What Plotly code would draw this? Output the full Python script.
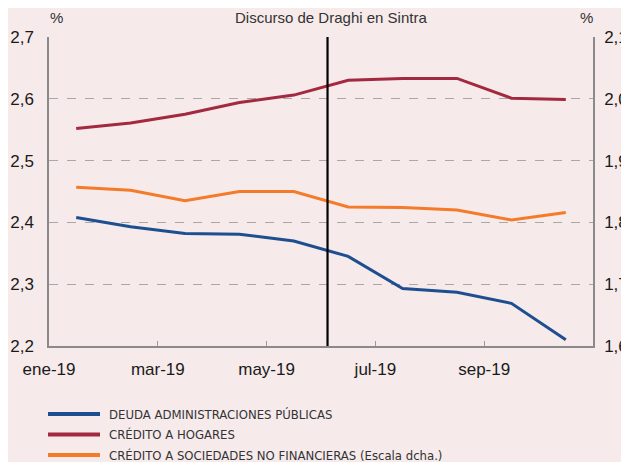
import plotly.graph_objects as go

# Data (monthly, Jan-Oct 2019)
months = ["ene-19", "feb-19", "mar-19", "abr-19", "may-19", "jun-19",
          "jul-19", "ago-19", "sep-19", "oct-19"]
deuda_ap = [2.408, 2.393, 2.382, 2.381, 2.370, 2.345, 2.293, 2.287, 2.269, 2.210]
credito_hogares = [2.552, 2.561, 2.575, 2.594, 2.606, 2.630, 2.633, 2.633, 2.601, 2.599]
credito_snf = [1.857, 1.852, 1.835, 1.850, 1.850, 1.825, 1.824, 1.820, 1.804, 1.816]

tick_positions = [0, 2, 4, 6, 8]
tick_labels = ["ene-19", "mar-19", "may-19", "jul-19", "sep-19"]
speech_pos = 5.12  # Discurso de Draghi en Sintra

x_pos = [i + 0.5 for i in range(len(months))]

BLUE = "#1D4E8F"
RED = "#A3293F"
ORANGE = "#F47B2A"
BG = "#F6EAEB"
FONT = "Liberation Sans, Arial, sans-serif"
NARROW = "Liberation Sans Narrow, DejaVu Sans Condensed, sans-serif"

fig = go.Figure()
fig.add_trace(go.Scatter(x=x_pos, y=deuda_ap, mode="lines", line=dict(color=BLUE, width=3),
                         name="DEUDA ADMINISTRACIONES PÚBLICAS", showlegend=False))
fig.add_trace(go.Scatter(x=x_pos, y=credito_hogares, mode="lines", line=dict(color=RED, width=3),
                         name="CRÉDITO A HOGARES", showlegend=False))
fig.add_trace(go.Scatter(x=x_pos, y=credito_snf, mode="lines", line=dict(color=ORANGE, width=3),
                         name="CRÉDITO A SOCIEDADES NO FINANCIERAS (Escala dcha.)",
                         yaxis="y2", showlegend=False))

# page body has an 8px margin, so the figure is 8px smaller and offset
OFF = 8
W, H = 629 - OFF, 462 - OFF
L, T = 49 - OFF, 37 - OFF
R = W - (593 - OFF)
B = H - (346 - OFF)
pw, ph = W - L - R, H - T - B

def px_x(p):
    return (p - OFF - L) / pw

def px_y(p):
    return (H - B - (p - OFF)) / ph

fig.update_layout(
    width=W, height=H,
    margin=dict(l=L, r=R, t=T, b=B, pad=0, autoexpand=False),
    paper_bgcolor=BG, plot_bgcolor=BG,
    separators=",.",
    font=dict(family=FONT, size=17, color="#1a1a1a"),
    xaxis=dict(range=[0, 10], tickvals=tick_positions, ticktext=tick_labels, automargin=False,
               showgrid=False, zeroline=False, showline=True, linecolor="#8a8a8a", linewidth=1.5,
               ticks="inside", ticklen=5, tickcolor="#9a9a9a", tickwidth=1,
               ticklabelstandoff=7, tickfont=dict(size=17), fixedrange=True),
    yaxis=dict(range=[2.2, 2.7], dtick=0.1, tickformat=".1f", automargin=False,
               showgrid=True, gridcolor="#a8a8a8", griddash="dash", gridwidth=1,
               zeroline=False, showline=True, linecolor="#8a8a8a", linewidth=1.5,
               ticks="", ticklabelstandoff=10, tickfont=dict(size=17)),
    yaxis2=dict(range=[1.6, 2.1], dtick=0.1, tickformat=".1f", overlaying="y", side="right",
                automargin=False,
                showgrid=False, zeroline=False, showline=True, linecolor="#8a8a8a", linewidth=1.5,
                ticks="", ticklabelstandoff=6, tickfont=dict(size=17)),
)

# Vertical event line
fig.add_shape(type="line", xref="x", yref="paper", x0=speech_pos, x1=speech_pos, y0=0, y1=1,
              line=dict(color="black", width=2.2))

fig.add_annotation(text="Discurso de Draghi en Sintra", xref="paper", yref="paper",
                   x=px_x(331), y=px_y(17), showarrow=False, xanchor="center", yanchor="middle",
                   font=dict(size=15, color="#333333"))
fig.add_annotation(text="%", xref="paper", yref="paper", x=px_x(56), y=px_y(17),
                   showarrow=False, xanchor="center", yanchor="middle",
                   font=dict(size=15, color="#333333"))
fig.add_annotation(text="%", xref="paper", yref="paper", x=px_x(586), y=px_y(17),
                   showarrow=False, xanchor="center", yanchor="middle",
                   font=dict(size=15, color="#333333"))

# Legend (manual)
legend_items = [("DEUDA ADMINISTRACIONES PÚBLICAS", BLUE, 414),
                ("CRÉDITO A HOGARES", RED, 434.5),
                ("CRÉDITO A SOCIEDADES NO FINANCIERAS (Escala dcha.)", ORANGE, 455)]
for label, color, py in legend_items:
    fig.add_shape(type="line", xref="paper", yref="paper", x0=px_x(48), x1=px_x(100),
                  y0=px_y(py), y1=px_y(py), line=dict(color=color, width=4))
    fig.add_annotation(text=label, xref="paper", yref="paper", x=px_x(107), y=px_y(py),
                       showarrow=False, xanchor="left", yanchor="middle",
                       font=dict(family=NARROW, size=13, color="#333333"))

fig.write_html("out.html")
